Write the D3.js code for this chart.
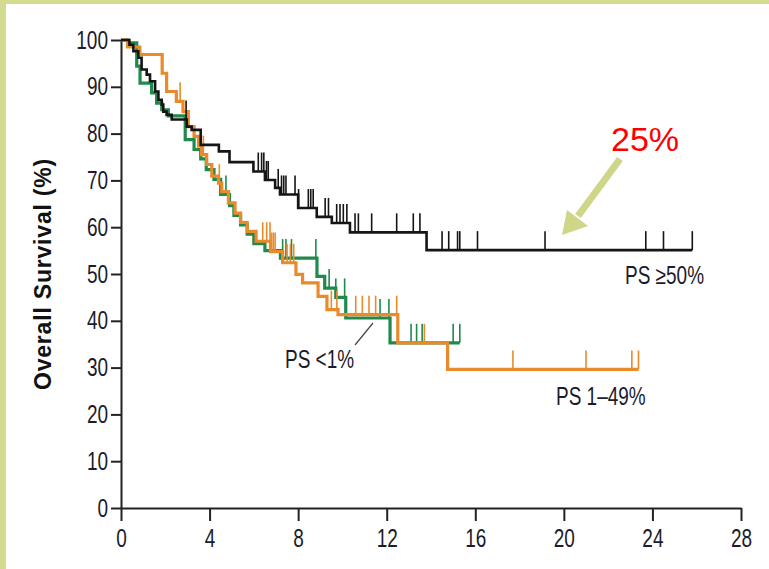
<!DOCTYPE html>
<html>
<head>
<meta charset="utf-8">
<script src="https://cdn.jsdelivr.net/npm/d3@7"></script>
<style>
  body { margin: 0; background: #fff; }
  svg { display: block; }
</style>
</head>
<body>
<svg width="769" height="569"></svg>
<script>
// axis ticks
const xTicks = [0, 4, 8, 12, 16, 20, 24, 28];
const yTicks = [0, 10, 20, 30, 40, 50, 60, 70, 80, 90, 100];

// PS >=50% (black)
const blackTimes = [0, 0.38, 0.56, 0.78, 0.93, 1.16, 1.31, 1.54, 1.69, 1.84, 1.91, 2.06, 2.29, 2.97, 3.19, 3.6, 4.42, 4.9, 5.98, 6.5, 6.96, 7.18, 8.0, 8.84, 9.52, 10.34, 13.8];
const blackSurv = [100, 99, 97.6, 96.2, 93.7, 92.6, 91.2, 89, 87.2, 86.2, 84.7, 84, 83, 81.5, 80.8, 77.6, 76.2, 73.9, 71.9, 70.1, 68.4, 67, 64.1, 62.2, 60.9, 58.9, 55.1];
const blackEnd = 25.8;
const blackCens = [2.94, 6.2, 6.35, 6.45, 6.57, 6.65, 7.1, 7.25, 7.35, 7.45, 7.86, 8.02, 8.46, 8.57, 8.68, 9.22, 9.37, 9.74, 9.89, 10.04, 10.2, 10.57, 10.72, 11.32, 12.45, 13.2, 13.5, 14.5, 14.8, 15.2, 15.3, 16.1, 19.15, 23.7, 24.5, 25.8];

// PS 1-49% (orange)
const orangeTimes = [0, 0.3, 0.85, 1.86, 2.06, 2.5, 2.8, 3.04, 3.3, 3.5, 3.64, 3.87, 4.1, 4.4, 4.55, 4.85, 5.15, 5.4, 5.7, 6.1, 6.75, 7.3, 7.9, 8.2, 8.9, 9.3, 9.8, 12.5, 14.75];
const orangeSurv = [100, 98.5, 96.9, 92.9, 89.0, 86.9, 84.7, 81.5, 79.4, 77.3, 75.5, 73.4, 70.9, 69.4, 67.6, 65.2, 63.0, 61.0, 59.1, 57.0, 54.8, 52.4, 49.9, 48.1, 45.2, 42.4, 41.3, 35.3, 29.6];
const orangeEnd = 23.37;
const orangeCens = [2.67, 3.72, 4.44, 6.4, 6.58, 6.73, 6.8, 6.88, 6.96, 7.5, 7.65, 7.8, 9.5, 9.75, 10.6, 10.9, 11.2, 11.5, 12.45, 13.7, 17.7, 21.0, 23.07, 23.37];

// PS <1% (green)
const greenTimes = [0, 0.3, 0.71, 0.86, 1.38, 1.61, 1.84, 2.14, 2.9, 3.3, 3.6, 3.85, 4.2, 4.5, 4.9, 5.1, 5.4, 5.7, 6.0, 6.5, 7.2, 8.85, 9.2, 9.7, 10.15, 12.15];
const greenSurv = [100, 99.4, 94.4, 90.8, 88.7, 86.5, 85.1, 83.8, 78.7, 76.6, 74.6, 72.3, 70.2, 67.0, 64.6, 62.5, 60.5, 58.5, 56.5, 55.0, 53.4, 49.5, 47.0, 45.0, 40.6, 35.3];
const greenEnd = 15.3;
const greenCens = [4.74, 7.3, 7.45, 7.7, 8.8, 9.4, 9.7, 10.1, 11.7, 12.1, 13.1, 13.35, 13.6, 15.0, 15.3];

let svg = d3.select('svg');
let tickFont = '"Liberation Sans", Arial, sans-serif';
let squeeze = 0.76; // the source font is a condensed face, so squash a regular one
let labelSize = '25px';

// white page with the olive frame on top and left
svg.append('rect').attr('width', 769).attr('height', 569).attr('fill', '#fff');
svg.append('rect').attr('x', 0).attr('y', 0).attr('width', 769).attr('height', 4).attr('fill', '#d4db8f');
svg.append('rect').attr('x', 0).attr('y', 0).attr('width', 6).attr('height', 569).attr('fill', '#d4db8f');

let x = d3.scaleLinear().domain([0, 28]).range([121, 741]);
let y = d3.scaleLinear().domain([0, 100]).range([508, 40]);

// axes
let xAxis = svg.append('g')
  .attr('transform', 'translate(0,' + y(0) + ')')
  .call(d3.axisBottom(x).tickValues(xTicks).tickSize(13).tickSizeOuter(0).tickPadding(8));
let yAxis = svg.append('g')
  .attr('transform', 'translate(' + x(0) + ',0)')
  .call(d3.axisLeft(y).tickValues(yTicks).tickSize(10).tickSizeOuter(0).tickPadding(3));

[xAxis, yAxis].forEach(function (g) {
  g.select('.domain').attr('stroke', '#222').attr('stroke-width', 2);
  g.selectAll('.tick line').attr('stroke', '#222').attr('stroke-width', 2);
  g.selectAll('.tick text')
    .attr('fill', '#1c1c2c')
    .style('font-family', tickFont)
    .style('font-size', labelSize)
    .attr('x', function () { return (+d3.select(this).attr('x') || 0) / squeeze; })
    .attr('transform', 'scale(' + squeeze + ',1)');
});

// y title
svg.append('text')
  .attr('transform', 'translate(51,274) rotate(-90)')
  .attr('text-anchor', 'middle')
  .style('font-family', '"Liberation Sans", Arial, sans-serif')
  .style('font-weight', 'bold')
  .style('font-size', '23px')
  .style('letter-spacing', '0.8px')
  .attr('fill', '#111')
  .text('Overall Survival (%)');

// step curves, one per group
let stepLine = d3.line()
  .x(function (d) { return x(d[0]); })
  .y(function (d) { return y(d[1]); })
  .curve(d3.curveStepAfter);

function survAt(times, surv, t) {
  let i = d3.bisectRight(times, t) - 1;
  return surv[Math.max(i, 0)];
}

function drawCurve(times, surv, end, cens, color, width) {
  let pts = times.map(function (t, i) { return [t, surv[i]]; });
  pts.push([end, surv[surv.length - 1]]);
  svg.append('path')
    .attr('d', stepLine(pts))
    .attr('fill', 'none')
    .attr('stroke', color)
    .attr('stroke-width', width);
  // censor ticks drawn upward from the curve
  svg.append('g').selectAll('line')
    .data(cens)
    .enter()
    .append('line')
    .attr('x1', function (d) { return x(d); })
    .attr('x2', function (d) { return x(d); })
    .attr('y1', function (d) { return y(survAt(times, surv, d)); })
    .attr('y2', function (d) { return y(survAt(times, surv, d)) - 19; })
    .attr('stroke', color)
    .attr('stroke-width', 1.6);
}

drawCurve(greenTimes, greenSurv, greenEnd, greenCens, '#1f8a4c', 3.2);
drawCurve(orangeTimes, orangeSurv, orangeEnd, orangeCens, '#e98a2b', 3.2);
drawCurve(blackTimes, blackSurv, blackEnd, blackCens, '#151515', 2.6);

// curve labels (squeezed like the tick labels)
function label(px, py, txt) {
  svg.append('text')
    .attr('x', px / squeeze).attr('y', py)
    .attr('transform', 'scale(' + squeeze + ',1)')
    .style('font-family', tickFont).style('font-size', labelSize)
    .attr('fill', '#1c1c2c')
    .text(txt);
}
label(625, 284, 'PS ≥50%');
label(556, 405, 'PS 1–49%');
label(285, 368, 'PS <1%');
svg.append('line')
  .attr('x1', 355).attr('y1', 345).attr('x2', 373).attr('y2', 323)
  .attr('stroke', '#444').attr('stroke-width', 1.2);

// annotation: 25% with arrow
svg.append('text')
  .attr('x', 611).attr('y', 151)
  .style('font-family', '"Liberation Sans", Arial, sans-serif')
  .style('font-size', '34px')
  .attr('fill', '#ff0000')
  .text('25%');

let arrowColor = '#cfd688';
svg.append('line')
  .attr('x1', 620).attr('y1', 159).attr('x2', 578).attr('y2', 216)
  .attr('stroke', arrowColor).attr('stroke-width', 7);
svg.append('polygon')
  .attr('points', '562,235 567,210 588,226')
  .attr('fill', arrowColor);
</script>
</body>
</html>
